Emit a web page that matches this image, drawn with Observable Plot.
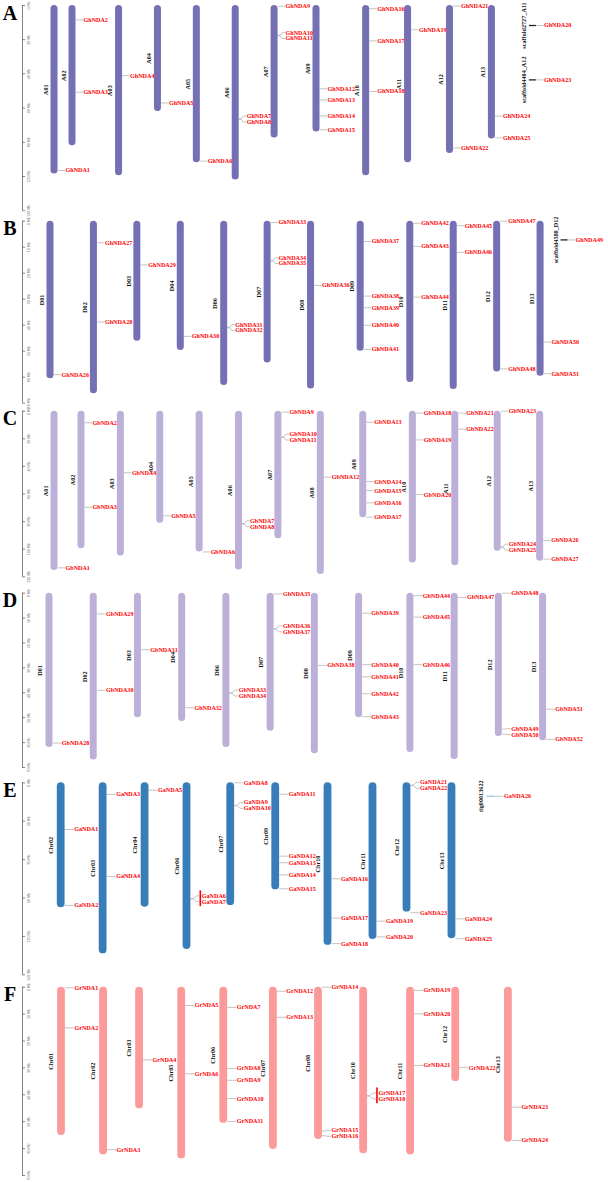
<!DOCTYPE html>
<html><head><meta charset="utf-8">
<script src="https://cdn.jsdelivr.net/npm/d3@7"></script>
<script src="https://cdn.jsdelivr.net/npm/@observablehq/plot@0.6"></script>
<style>
body{margin:0;background:#fff;width:608px;}
#chart svg{display:block;overflow:visible;}
</style>
</head><body><div id="chart"></div>
<script>
// ================= DATA =================
// ---- Panel A (G. hirsutum At) ----
const chromA = ["A01","A02","A03","A04","A05","A06","A07","A09","A10","A11","A12","A13"];
const lenA = [98.5,82,99.5,62,92,102,77.5,74,99.5,92,86.5,78];
const scafA = ["scaffold2727_A11","scaffold4404_A12"];
const scafPosA = [11.7,43.5];
const geneA = ["GhNDA1","GhNDA2","GhNDA3","GhNDA4","GhNDA5","GhNDA6","GhNDA7","GhNDA8","GhNDA9","GhNDA10","GhNDA11","GhNDA12","GhNDA13","GhNDA14","GhNDA15","GhNDA16","GhNDA17","GhNDA18","GhNDA19","GhNDA20","GhNDA21","GhNDA22","GhNDA23","GhNDA24","GhNDA25"];
const geneChrA = ["A01","A02","A02","A03","A04","A05","A06","A06","A07","A07","A07","A09","A09","A09","A09","A10","A10","A10","A11","scaffold2727_A11","A12","A12","scaffold4404_A12","A13","A13"];
const genePosA = [96.5,8.4,50.7,41,57,91,66.3,66.5,0.4,17.5,17.7,48.7,55.2,64.5,72.7,1.9,20.7,50.3,14.2,11.7,0.3,83.3,43.5,64.7,77.4];
const ticksA = [0,20,40,60,80,100,120];

// ---- Panel B (G. hirsutum Dt) ----
const chromB = ["D01","D02","D03","D04","D06","D07","D08","D09","D10","D11","D12","D13"];
const lenB = [60.6,66.4,46.2,49.7,63.2,54.5,64.5,50,62,64.7,58,59.6];
const scafB = ["scaffold4588_D12"];
const scafPosB = [7.2];
const geneB = ["GhNDA26","GhNDA27","GhNDA28","GhNDA29","GhNDA30","GhNDA31","GhNDA32","GhNDA33","GhNDA34","GhNDA35","GhNDA36","GhNDA37","GhNDA38","GhNDA39","GhNDA40","GhNDA41","GhNDA42","GhNDA43","GhNDA44","GhNDA45","GhNDA46","GhNDA47","GhNDA48","GhNDA49","GhNDA50","GhNDA51"];
const geneChrB = ["D01","D02","D02","D03","D04","D06","D06","D07","D07","D07","D08","D09","D09","D09","D09","D09","D10","D10","D10","D11","D11","D12","D12","scaffold4588_D12","D13","D13"];
const genePosB = [59,8.3,38.8,16.8,44.3,40.8,41.0,0.5,15.0,15.3,24.7,7.8,28.8,33.3,40,49.3,0.8,9.7,29.2,1.7,12,0,56.8,7.2,46.5,58.6];
const ticksB = [0,10,20,30,40,50,60,70];

// ---- Panel C (G. barbadense At) ----
const chromC = ["A01","A02","A03","A04","A05","A06","A07","A08","A09","A10","A11","A12","A13"];
const lenC = [115.4,99.7,105,81.2,102,115,92.5,118.3,77.3,110,112,101.4,108.7];
const geneC = ["GbNDA1","GbNDA2","GbNDA3","GbNDA4","GbNDA5","GbNDA6","GbNDA7","GbNDA8","GbNDA9","GbNDA10","GbNDA11","GbNDA12","GbNDA13","GbNDA14","GbNDA15","GbNDA16","GbNDA17","GbNDA18","GbNDA19","GbNDA20","GbNDA21","GbNDA22","GbNDA23","GbNDA24","GbNDA25","GbNDA26","GbNDA27"];
const geneChrC = ["A01","A02","A02","A03","A04","A05","A06","A06","A07","A07","A07","A08","A09","A09","A09","A09","A09","A10","A10","A10","A11","A11","A12","A12","A12","A13","A13"];
const genePosC = [113.5,8.4,69.6,44.6,75.8,102,81.4,81.7,0.7,18.6,18.9,47.8,8,51,57.5,66.4,76.8,1.4,20.8,60.4,1.4,13,0,98.3,98.7,93.7,107.2];
const ticksC = [0,20,40,60,80,100,120];

// ---- Panel D (G. barbadense Dt) ----
const chromD = ["D01","D02","D03","D04","D06","D07","D08","D09","D10","D11","D12","D13"];
const lenD = [62,67,50,51.5,62,55.4,64.5,50,64,66.8,57.5,59.3];
const geneD = ["GbNDA28","GbNDA29","GbNDA30","GbNDA31","GbNDA32","GbNDA33","GbNDA34","GbNDA35","GbNDA36","GbNDA37","GbNDA38","GbNDA39","GbNDA40","GbNDA41","GbNDA42","GbNDA43","GbNDA44","GbNDA45","GbNDA46","GbNDA47","GbNDA48","GbNDA49","GbNDA50","GbNDA51","GbNDA52"];
const geneChrD = ["D01","D02","D02","D03","D04","D06","D06","D07","D07","D07","D08","D09","D09","D09","D09","D09","D10","D10","D10","D11","D12","D12","D12","D13","D13"];
const genePosD = [60.2,8.3,39,22.7,46,40,40.2,0.3,14.2,14.5,29,8,28.7,33.6,40.4,49.6,1,9.6,28.7,1.7,0,54.6,56.6,46.6,58.7];
const ticksD = [0,10,20,30,40,50,60,70];

// ---- Panel E (G. arboreum) ----
const chromE = ["Chr02","Chr03","Chr04","Chr06","Chr07","Chr09","Chr10","Chr11","Chr12","Chr13"];
const lenE = [97.6,133.6,97.2,130.2,95.9,83.6,127,122.4,101,121.8];
const scafE = ["tig00013622"];
const scafPosE = [10.5];
const geneE = ["GaNDA1","GaNDA2","GaNDA3","GaNDA4","GaNDA5","GaNDA6","GaNDA7","GaNDA8","GaNDA9","GaNDA10","GaNDA11","GaNDA12","GaNDA13","GaNDA14","GaNDA15","GaNDA16","GaNDA17","GaNDA18","GaNDA19","GaNDA20","GaNDA21","GaNDA22","GaNDA23","GaNDA24","GaNDA25","GaNDA26"];
const geneChrE = ["Chr02","Chr02","Chr03","Chr03","Chr04","Chr06","Chr06","Chr07","Chr07","Chr07","Chr09","Chr09","Chr09","Chr09","Chr09","Chr10","Chr10","Chr10","Chr11","Chr11","Chr12","Chr12","Chr12","Chr13","Chr13","tig00013622"];
const genePosE = [36.5,95.8,9.1,73.2,5.8,90.5,90.7,0,17.6,17.8,8.9,57.3,62.5,71.9,82.8,75,105.7,125.6,108.1,120.4,1.8,2.1,101.5,106.3,121.8,10.5];
const tandemE = [["GaNDA6","GaNDA7"]];
const ticksE = [0,30,60,90,120,150];

// ---- Panel F (G. raimondii) ----
const chromF = ["Chr01","Chr02","Chr03","Chr05","Chr06","Chr07","Chr08","Chr10","Chr11","Chr12","Chr13"];
const lenF = [55.1,62.3,45.2,63.8,50.6,60.3,56.6,61.9,62.3,35.1,57.6];
const geneF = ["GrNDA1","GrNDA2","GrNDA3","GrNDA4","GrNDA5","GrNDA6","GrNDA7","GrNDA8","GrNDA9","GrNDA10","GrNDA11","GrNDA12","GrNDA13","GrNDA14","GrNDA15","GrNDA16","GrNDA17","GrNDA18","GrNDA19","GrNDA20","GrNDA21","GrNDA22","GrNDA23","GrNDA24"];
const geneChrF = ["Chr01","Chr01","Chr02","Chr03","Chr05","Chr05","Chr06","Chr06","Chr06","Chr06","Chr06","Chr07","Chr07","Chr08","Chr08","Chr08","Chr10","Chr10","Chr11","Chr11","Chr11","Chr12","Chr13","Chr13"];
const genePosF = [0.2,15.1,60.4,27,6.8,32.2,7.5,30.2,34.6,41.4,49.9,1.5,11.2,0,53.5,55.2,40.3,40.5,1.2,9.9,29.1,29.9,44.6,57];
const tandemF = [["GrNDA17","GrNDA18"]];
const ticksF = [0,10,20,30,40,50,60,70];

// ================= STYLE / LAYOUT =================
const LABEL_FONT = "bold 6.1px 'Liberation Serif'";
const NAME_FONT = "bold 6.2px 'Liberation Serif'";
const AXIS_X = 22, GENE_GAP = 5.9, NAME_PAD = 2.4, LABEL_HALF = 2.2;
const purple = "#7570b3", lavender = "#bcb0d8", blue = "#377eb8", pink = "#fb9a99";
const styleA = {color:purple,   scafColor:"#222",    barW:7,   labelOff:11,   nameOff:8.8, nameTrim:1.5, pad:0,   firstX:54,   minGap:18, scafGap:41};
const styleB = {color:purple,   scafColor:"#222",    barW:7,   labelOff:11,   nameOff:8.8, nameTrim:0.5, pad:1.5, firstX:50,   minGap:18, scafGap:24};
const styleC = {color:lavender, scafColor:"#222",    barW:7,   labelOff:11,   nameOff:8.8, nameTrim:2.2, pad:0.5, firstX:54,   minGap:27, scafGap:27};
const styleD = {color:lavender, scafColor:"#222",    barW:7,   labelOff:12.3, nameOff:9.2, nameTrim:1.5, pad:1,   firstX:49,   minGap:27, scafGap:27};
const styleE = {color:blue,     scafColor:"#9ec4e4", barW:7.8, labelOff:13,   nameOff:9.8, nameTrim:1.5, pad:1,   firstX:60.7, minGap:34, scafGap:39};
const styleF = {color:pink,     scafColor:pink,      barW:7.8, labelOff:13,   nameOff:10.5, nameTrim:1.5, pad:1.5, firstX:61,  minGap:36, scafGap:36};

const panels = [
  {letter:"A", H:215, y0px:5,   y1px:210.2, chroms:chromA, lens:lenA, scafs:scafA, scafPos:scafPosA, genes:geneA, geneChr:geneChrA, genePos:genePosA, ticks:ticksA, tandem:[], style:styleA},
  {letter:"B", H:190, y0px:5.7, y1px:187.7, chroms:chromB, lens:lenB, scafs:scafB, scafPos:scafPosB, genes:geneB, geneChr:geneChrB, genePos:genePosB, ticks:ticksB, tandem:[], style:styleB},
  {letter:"C", H:177, y0px:5.7, y1px:171.3, chroms:chromC, lens:lenC, scafs:[], scafPos:[], genes:geneC, geneChr:geneChrC, genePos:genePosC, ticks:ticksC, tandem:[], style:styleC},
  {letter:"D", H:196, y0px:10.7,y1px:185,   chroms:chromD, lens:lenD, scafs:[], scafPos:[], genes:geneD, geneChr:geneChrD, genePos:genePosD, ticks:ticksD, tandem:[], style:styleD},
  {letter:"E", H:200, y0px:4.3, y1px:196.3, chroms:chromE, lens:lenE, scafs:scafE, scafPos:scafPosE, genes:geneE, geneChr:geneChrE, genePos:genePosE, ticks:ticksE, tandem:tandemE, style:styleE},
  {letter:"F", H:204, y0px:8.7, y1px:197,   chroms:chromF, lens:lenF, scafs:[], scafPos:[], genes:geneF, geneChr:geneChrF, genePos:genePosF, ticks:ticksF, tandem:tandemF, style:styleF}
];

const ctx = document.createElement("canvas").getContext("2d");
function tw(s, font){ ctx.font = font; return ctx.measureText(s).width; }
function overlap(a, b){ return a[0] < b[1] && b[0] < a[1]; }

function spread(items, gap){
  items.sort((a,b)=>a.gy-b.gy);
  let groups = items.map(it=>({m:[it], c:it.gy}));
  let changed = true;
  while (changed){
    changed = false;
    for (let i=0;i<groups.length-1;i++){
      const a=groups[i], b=groups[i+1];
      const aBot = a.c + (a.m.length-1)*gap/2, bTop = b.c - (b.m.length-1)*gap/2;
      if (bTop - aBot < gap - 1e-6){
        const m = a.m.concat(b.m);
        groups.splice(i,2,{m, c:d3.mean(m,d=>d.gy)});
        changed = true; break;
      }
    }
  }
  groups.forEach(g=>g.m.forEach((it,j)=>{ it.ly = g.c + (j-(g.m.length-1)/2)*gap; }));
}

function build(p){
  const maxT = p.ticks[p.ticks.length-1];
  const k = (p.y1px - p.y0px)/maxT;
  const Y = v => p.y0px + v*k, inv = px => (px - p.y0px)/k;
  const st = p.style, hw = st.barW/2, lo = st.labelOff, no = st.nameOff;
  const genes = p.genes.map((g,i)=>({id:g, chr:p.geneChr[i], pos:p.genePos[i]}));
  const cols = p.chroms.map((c,i)=>({kind:"chr", names:[c], pos:[p.lens[i]/2], len:p.lens[i]}));
  if (p.scafs.length) cols.push({kind:"scaf", names:p.scafs, pos:p.scafPos});
  const obstacles = [];
  let prevX = null;
  const chromRows=[], scafRows=[], nameRows=[], labelRows=[], connRows=[], tandemRows=[];
  for (const col of cols){
    const barExt = col.kind==="chr" ? [[Y(0)-1, Y(col.len)+1]] : col.pos.map(v=>[Y(v)-1.5, Y(v)+1.5]);
    const nameExt = col.names.map((n,j)=>{ const h=tw(n,NAME_FONT)/2-st.nameTrim; return [Y(col.pos[j])-h, Y(col.pos[j])+h]; });
    let x = prevX===null ? st.firstX : prevX + (col.kind==="chr" ? st.minGap : st.scafGap);
    for (const ob of obstacles){
      const e=[ob.y0, ob.y1];
      if (barExt.some(b=>overlap(b,e))) x = Math.max(x, ob.R + hw + st.pad);
      if (nameExt.some(b=>overlap(b,e))) x = Math.max(x, ob.R + no + NAME_PAD);
    }
    prevX = x;
    if (col.kind==="chr") chromRows.push({x, len:col.len});
    else col.pos.forEach(v=>scafRows.push({x, pos:v}));
    col.names.forEach((n,j)=>nameRows.push({x:x-no, y:col.pos[j], name:n}));
    barExt.forEach(b=>obstacles.push({y0:b[0], y1:b[1], R:x+hw}));
    const g = genes.filter(d=>col.names.includes(d.chr)).map(d=>({...d, gy:Y(d.pos)}));
    spread(g, GENE_GAP);
    for (const d of g){
      const tan = p.tandem.some(t=>t.includes(d.id));
      const lx = x + lo;
      const tx = tan ? lx + 1.8 : lx;
      labelRows.push({x:tx, y:inv(d.ly), id:d.id});
      const pts = Math.abs(d.ly-d.gy) < 0.3
        ? [[x+hw, d.gy],[lx-1, d.ly]]
        : [[x+hw, d.gy],[x+hw+2, d.gy],[lx-3.5, d.ly],[lx-1, d.ly]];
      pts.forEach(([px,py])=>connRows.push({id:d.id, x:px, y:inv(py)}));
      obstacles.push({y0:d.ly-LABEL_HALF, y1:d.ly+LABEL_HALF, R:tx + tw(d.id, LABEL_FONT)});
    }
    for (const t of p.tandem){
      const m = g.filter(d=>t.includes(d.id));
      if (m.length) tandemRows.push({x:x+lo+0.3, y1:inv(d3.min(m,d=>d.ly)-5), y2:inv(d3.max(m,d=>d.ly)+5)});
    }
  }
  return Plot.plot({
    width:608, height:p.H, margin:0,
    x:{domain:[0,608], range:[0,608], axis:null},
    y:{domain:[0,maxT], range:[p.y0px, p.y1px], axis:null},
    style:{overflow:"visible", background:"transparent"},
    marks:[
      Plot.ruleX([0], {x:AXIS_X, y1:0, y2:maxT, stroke:"#666", strokeWidth:0.8}),
      Plot.ruleY(p.ticks, {y:d=>d, x1:AXIS_X, x2:AXIS_X+3, stroke:"#666", strokeWidth:0.8}),
      Plot.text(p.ticks, {x:AXIS_X+6.5, y:d=>d, text:d=>`${d} Mb`, rotate:-90, fontSize:3.6, fill:"#666", fontFamily:"Liberation Sans"}),
      Plot.text([p.letter], {x:9.5, y:0, text:d=>d, dy:7.8, fontSize:20, fontWeight:"bold", fontFamily:"Liberation Serif", fill:"#000"}),
      Plot.line(connRows, {x:"x", y:"y", z:"id", stroke:"#aaa", strokeWidth:0.7}),
      Plot.rect(chromRows, {x1:d=>d.x-hw, x2:d=>d.x+hw, y1:0, y2:"len", rx:hw, fill:st.color}),
      Plot.ruleY(scafRows, {y:"pos", x1:d=>d.x-hw, x2:d=>d.x+hw, stroke:st.scafColor, strokeWidth:1.3}),
      Plot.ruleX(tandemRows, {x:"x", y1:"y1", y2:"y2", stroke:"#f00", strokeWidth:1.6}),
      Plot.text(nameRows, {x:"x", y:"y", text:"name", rotate:-90, fontSize:6.2, fontWeight:"bold", fontFamily:"Liberation Serif", fill:"#111"}),
      Plot.text(labelRows, {x:"x", y:"y", text:"id", textAnchor:"start", fontSize:6.1, fontWeight:"bold", fontFamily:"Liberation Serif", fill:"#f00"})
    ]
  });
}

const root = document.getElementById("chart");
panels.forEach(p=>root.appendChild(build(p)));
</script>
</body></html>
